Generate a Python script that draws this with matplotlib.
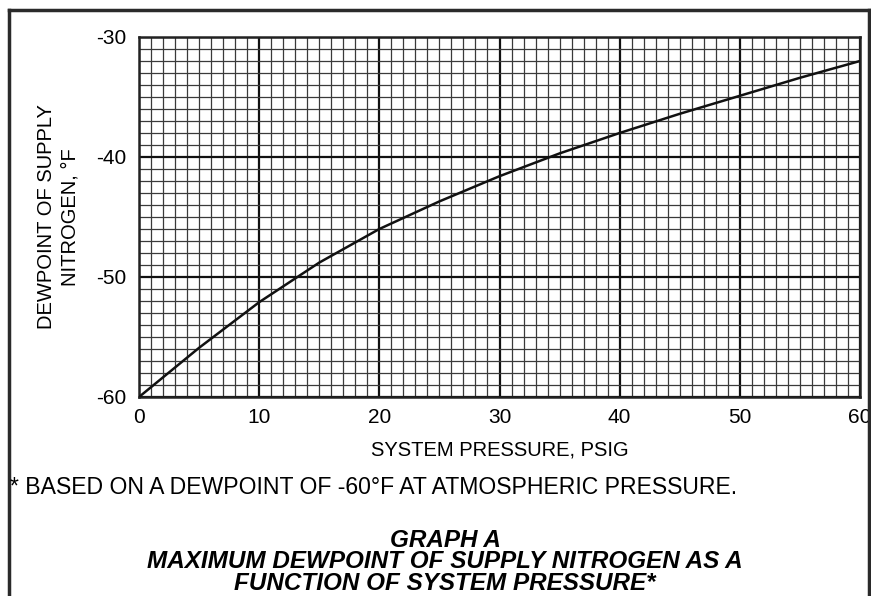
import matplotlib.pyplot as plt
from matplotlib.lines import Line2D
from matplotlib.ticker import MultipleLocator
import numpy as np

plt.rcParams['font.family'] = ['Liberation Sans', 'DejaVu Sans']
plt.rcParams['axes.unicode_minus'] = False

# curve
pressure = [0, 5, 10, 15, 20, 25, 30, 35, 40, 45, 50, 55, 60]
dewpoint = [-60, -55.9, -52.1, -48.8, -46.0, -43.7, -41.6, -39.7, -38.0, -36.4, -34.9, -33.4, -32.0]

x_ticks = [0, 10, 20, 30, 40, 50, 60]
y_ticks = [-60, -50, -40, -30]

W, H = 871, 596
fig = plt.figure(figsize=(W / 100, H / 100), dpi=100)
ax = fig.add_axes([139 / W, 1 - 397 / H, 721 / W, 360 / H])

ax.plot(pressure, dewpoint, color='#111111', lw=1.8, zorder=3)
ax.set_xlim(0, 60)
ax.set_ylim(-60, -30)
ax.set_xticks(x_ticks)
ax.set_yticks(y_ticks)
ax.xaxis.set_minor_locator(MultipleLocator(1))
ax.yaxis.set_minor_locator(MultipleLocator(1))
ax.grid(which='minor', color='#3a3a3a', lw=0.9)
ax.grid(which='major', color='#111111', lw=1.6)
ax.set_axisbelow(True)
ax.tick_params(which='both', length=0)
ax.tick_params(axis='y', pad=9, labelsize=15)
ax.tick_params(axis='x', pad=8, labelsize=15)
for s in ax.spines.values():
    s.set_linewidth(1.8)
    s.set_color('#222222')

ax.set_xlabel("SYSTEM PRESSURE, PSIG", fontsize=14.5, labelpad=10)
ax.set_ylabel("DEWPOINT OF SUPPLY\nNITROGEN, °F", fontsize=14.5, labelpad=12,
              linespacing=1.3)

fig.text(10 / W, 1 - 487 / H, "* BASED ON A DEWPOINT OF -60°F AT ATMOSPHERIC PRESSURE.",
         fontsize=16.6, ha='left', va='center')
fig.text(445 / W, 1 - 562 / H,
         "GRAPH A\nMAXIMUM DEWPOINT OF SUPPLY NITROGEN AS A\nFUNCTION OF SYSTEM PRESSURE*",
         fontsize=17.5, fontweight='bold', style='italic', ha='center', va='center',
         linespacing=0.93)

# page frame (left, top, right)
fx0, fx1, fy = 8.5 / W, 868.5 / W, 1 - 10 / H
for xs, ys in [([fx0, fx0], [0, fy]), ([fx0, fx1], [fy, fy]), ([fx1, fx1], [fy, 0])]:
    fig.add_artist(Line2D(xs, ys, color='#2a2a2a', lw=2.5, transform=fig.transFigure))

fig.savefig('out.png', dpi=100)
